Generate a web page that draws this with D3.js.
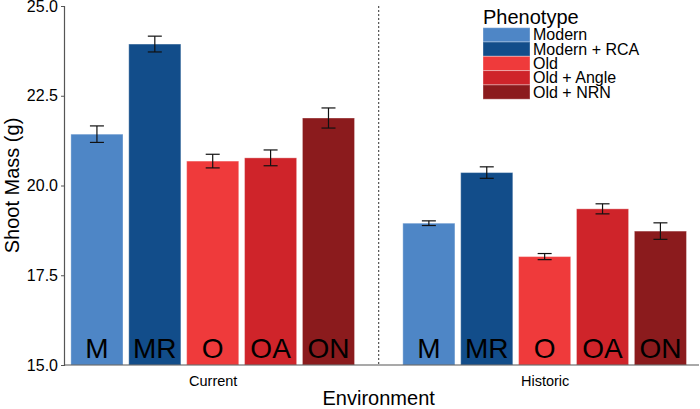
<!DOCTYPE html>
<html><head><meta charset="utf-8">
<script src="https://cdn.jsdelivr.net/npm/d3@7"></script>
<style>
html,body{margin:0;padding:0;background:#fff;}
text{font-family:"Liberation Sans",Arial,Helvetica,sans-serif;}
</style></head>
<body><svg id="chart" width="700" height="409"></svg>
<script>
const environments = ["Current", "Historic"];
const phenotypes = ["Modern", "Modern + RCA", "Old", "Old + Angle", "Old + NRN"];
const shortLabels = ["M", "MR", "O", "OA", "ON"];
const colors = ["#4e86c6", "#124d8a", "#ef3a3b", "#cf242a", "#8b1b1d"];
const currentMeans = [21.43, 23.94, 20.68, 20.77, 21.88];
const currentSE = [0.23, 0.22, 0.19, 0.22, 0.28];
const historicMeans = [18.95, 20.36, 18.02, 19.35, 18.73];
const historicSE = [0.065, 0.16, 0.085, 0.14, 0.23];
const yTicks = [15.0, 17.5, 20.0, 22.5, 25.0];

const rows = [];
environments.forEach((env, ei) => {
  const m = ei === 0 ? currentMeans : historicMeans;
  const s = ei === 0 ? currentSE : historicSE;
  phenotypes.forEach((p, pi) => rows.push({env, pheno: p, short: shortLabels[pi], mean: m[pi], se: s[pi]}));
});

const svg = d3.select("#chart");
const margin = {left: 64, right: 1, top: 6, bottom: 44};
const W = 700, H = 409;

const x = d3.scaleLinear().domain([0.552, 2.465]).range([margin.left, W - margin.right]);
const envIndex = d3.scaleOrdinal().domain(environments).range([1, 2]);
const groupHalf = 0.436;
const inner = d3.scaleBand().domain(phenotypes).range([-groupHalf, groupHalf]).paddingInner(0.1).paddingOuter(0.05);
const pxPerUnit = x(1) - x(0);
const y = d3.scaleLinear().domain([15, 25]).range([H - margin.bottom, margin.top]);
const color = d3.scaleOrdinal().domain(phenotypes).range(colors);

// bars
const barX = d => x(envIndex(d.env) + inner(d.pheno));
const bw = inner.bandwidth() * pxPerUnit;
svg.append("g").selectAll("rect").data(rows).join("rect")
  .attr("x", barX)
  .attr("y", d => y(d.mean))
  .attr("width", bw)
  .attr("height", d => y(15) - y(d.mean))
  .attr("fill", d => color(d.pheno))
  .attr("stroke", "rgba(255,255,255,0.35)")
  .attr("stroke-width", 1);

// error bars
const eb = svg.append("g").attr("stroke", "#111").attr("stroke-width", 1.2);
rows.forEach(d => {
  const cx = barX(d) + bw / 2;
  eb.append("line").attr("x1", cx).attr("x2", cx).attr("y1", y(d.mean + d.se)).attr("y2", y(d.mean - d.se));
  eb.append("line").attr("x1", cx - 7).attr("x2", cx + 7).attr("y1", y(d.mean + d.se)).attr("y2", y(d.mean + d.se));
  eb.append("line").attr("x1", cx - 7).attr("x2", cx + 7).attr("y1", y(d.mean - d.se)).attr("y2", y(d.mean - d.se));
});

// bar letters
svg.append("g").selectAll("text").data(rows).join("text")
  .attr("x", d => barX(d) + bw / 2)
  .attr("y", y(15) - 7)
  .attr("text-anchor", "middle")
  .attr("font-size", 28)
  .attr("fill", "#000")
  .text(d => d.short);

// dashed separator
svg.append("line")
  .attr("x1", x(1.5)).attr("x2", x(1.5))
  .attr("y1", y(25)).attr("y2", y(15))
  .attr("stroke", "#444").attr("stroke-width", 1.1)
  .attr("stroke-dasharray", "2,2");

// y axis
const yAxis = svg.append("g").attr("transform", `translate(${margin.left},0)`)
  .call(d3.axisLeft(y).tickValues(yTicks).tickFormat(d3.format(".1f")).tickSize(3).tickPadding(3));
yAxis.select(".domain").attr("stroke", "#555").attr("stroke-width", 1.2);
yAxis.selectAll(".tick line").attr("stroke", "#555");
yAxis.selectAll(".tick text").attr("font-size", 16).attr("fill", "#000")
  .style("font-family", '"Liberation Sans",Arial,sans-serif');

// x axis
const xAxis = svg.append("g").attr("transform", `translate(0,${y(15)})`)
  .call(d3.axisBottom(x).tickValues([1, 2]).tickFormat((d, i) => environments[i]).tickSize(0).tickPadding(11));
xAxis.select(".domain").attr("stroke", "#555").attr("stroke-width", 1.2)
  .attr("d", `M${margin.left},0H${W - margin.right}`);
xAxis.selectAll(".tick text").attr("font-size", 14.5).attr("fill", "#000")
  .style("font-family", '"Liberation Sans",Arial,sans-serif');

// axis titles
svg.append("text").attr("x", x(1.5)).attr("y", 405).attr("text-anchor", "middle")
  .attr("font-size", 20).text("Environment");
svg.append("text").attr("transform", `translate(19,${y(20)}) rotate(-90)`).attr("text-anchor", "middle")
  .attr("font-size", 20).text("Shoot Mass (g)");

// legend
const lg = svg.append("g").attr("transform", "translate(483,0)");
lg.append("text").attr("x", 0).attr("y", 24).attr("font-size", 20).text("Phenotype");
const keyH = 14.3;
phenotypes.forEach((p, i) => {
  lg.append("rect").attr("x", 0).attr("y", 27.7 + i * keyH).attr("width", 47).attr("height", keyH)
    .attr("fill", colors[i]).attr("stroke", "rgba(255,255,255,0.35)").attr("stroke-width", 1);
  lg.append("text").attr("x", 50).attr("y", 27.7 + i * keyH + keyH / 2 + 5.5).attr("font-size", 16).text(p);
});
</script></body></html>
